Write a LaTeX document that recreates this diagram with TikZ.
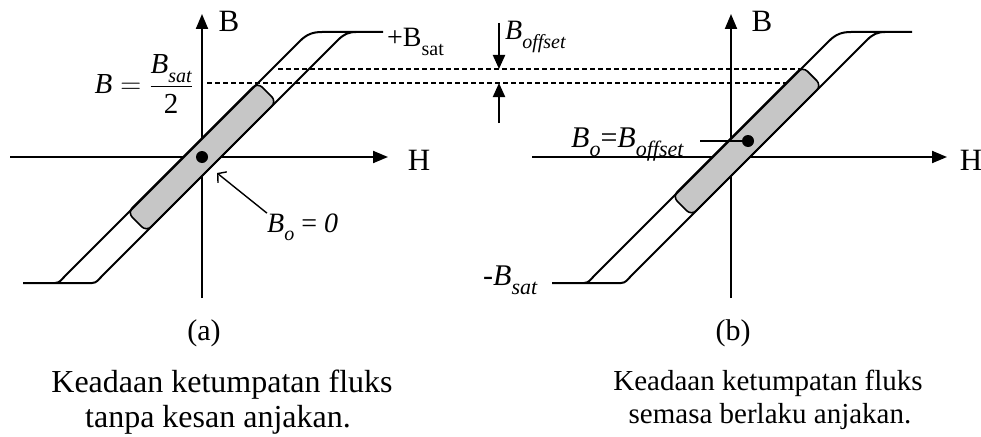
\RequirePackage{fix-cm}
\documentclass[tikz,border=0pt]{standalone}
\usepackage{amsmath}
\usepackage{fontspec}
\setmainfont{Liberation Serif}
\usetikzlibrary{arrows.meta, positioning, calc}

\newcommand\lowsub[2][20]{\raisebox{-0.3em}{\fontsize{#1}{#1}\selectfont #2}}
\newcommand\hysloop[1]{%
  \begin{scope}[shift={(#1,0)}]
    \draw[curve] (23,283) -- (92,283) to[out=0,in=225] (102,276) -- (338,40)
      to[out=45,in=180] (356,32) -- (383,32);
    \draw[curve] (55,283) to[out=0,in=225] (65,276) -- (300,41)
      to[out=45,in=180] (322,32) -- (356,32);
  \end{scope}}

\tikzset{
  axis/.style={line width=2pt, -{Triangle[length=15pt, width=12pt]}},
  curve/.style={line width=2pt, line join=round},
  band/.style={draw, line width=1.6pt, fill=gray!45, rounded corners=7pt,
    rotate=45, minimum width=184pt, minimum height=27pt, inner sep=0pt},
  level/.style={line width=1.3pt, dash pattern=on 5pt off 3pt},
  marker/.style={line width=2pt, -{Triangle[length=14pt, width=12pt]}},
  pointer/.style={line width=1.4pt, -{Straight Barb[length=6pt, width=14pt]}},
  leader/.style={line width=1.4pt},
  dot/.style={circle, fill=black, minimum size=12pt, inner sep=0pt},
  lbl/.style={font=\fontsize{28}{30}\selectfont, inner sep=0pt},
  biglbl/.style={font=\fontsize{30}{32}\selectfont, inner sep=0pt},
  axlbl/.style={font=\fontsize{31}{33}\selectfont, inner sep=0pt},
  captext/.style={font=\fontsize{29}{33}\selectfont, inner sep=0pt}
}

\begin{document}
\begin{tikzpicture}[x=1pt, y=-1pt]
  \useasboundingbox (0,0) rectangle (981,436);

  % (a) no offset
  \coordinate (Oa) at (202,157);
  \coordinate (Ba0) at (202,298);
  \coordinate (Ba1) at (202,14);
  \coordinate (Ha0) at (10,157);
  \coordinate (Ha1) at (388,157);
  \draw[axis] (Ba0) -- (Ba1);
  \draw[axis] (Ha0) -- (Ha1);
  \node[band] (banda) at (Oa) {};
  \hysloop{0}
  \node[dot] (dota) at (Oa) {};
  \node[axlbl] (Blbla) at (229,21) {B};
  \node[axlbl] (Hlbla) at (419,160) {H};
  \node[lbl, anchor=base west] (bsatp) at (387,47) {+B\lowsub{sat}};
  \node[lbl, anchor=east, font=\fontsize{29}{32}\selectfont] (bhalf) at (193,84)
    {$\text{\itshape B} = \dfrac{\text{\itshape B\lowsub{sat}}}{\text{2}}$};
  \node[lbl, anchor=base west] (bzero) at (267,232) {\textit{B\lowsub{o}} = \textit{0}};
  \coordinate (bzerotip) at (217,173);
  \draw[pointer] (bzero.north west) -- (bzerotip);
  \node[captext, anchor=base, font=\fontsize{30}{33}\selectfont] (capa) at (204,340) {(a)};
  \node[captext, anchor=base, font=\fontsize{32}{36}\selectfont] (capa1) at (222,392)
    {Keadaan ketumpatan fluks};
  \node[captext, anchor=base, font=\fontsize{32}{36}\selectfont] (capa2) at (218,427)
    {tanpa kesan anjakan.};

  % (b) with offset
  \coordinate (Ob) at (731,157);
  \coordinate (Bb0) at (731,298);
  \coordinate (Bb1) at (731,14);
  \coordinate (Hb0) at (532,157);
  \coordinate (Hb1) at (947,157);
  \draw[axis] (Bb0) -- (Bb1);
  \draw[axis] (Hb0) -- (Hb1);
  \node[band] (bandb) at (747,141) {};
  \hysloop{529}
  \node[dot] (dotb) at (748,141) {};
  \node[axlbl] (Blblb) at (762,21) {B};
  \node[axlbl] (Hlblb) at (971,160) {H};
  \node[biglbl, anchor=base west] (bsatm) at (483,285) {-\textit{B\lowsub[22]{sat}}};
  \node[biglbl, anchor=base west] (boff) at (571,147)
    {\textit{B\lowsub[22]{o}}=\textit{B\lowsub[22]{offset}}};
  \coordinate (leadb) at (700,141);
  \draw[leader] (leadb) -- (dotb.center);
  \node[captext, anchor=base, font=\fontsize{30}{33}\selectfont] (capb) at (733,340) {(b)};
  \node[captext, anchor=base] (capb1) at (768,390) {Keadaan ketumpatan fluks};
  \node[captext, anchor=base] (capb2) at (770,423) {semasa berlaku anjakan.};

  % offset levels
  \coordinate (hiL) at (278,69);
  \coordinate (hiR) at (800,69);
  \coordinate (loL) at (207,83);
  \coordinate (loR) at (787,83);
  \draw[level] (hiL) -- (hiR);
  \draw[level] (loL) -- (loR);
  \node[lbl, anchor=base west] (bofflbl) at (505,40) {\textit{B\lowsub{offset}}};
  \coordinate (offtop) at (499,23);
  \coordinate (offhi) at (499,69);
  \coordinate (offlo) at (499,83);
  \coordinate (offbot) at (499,123);
  \draw[marker] (offtop) -- (offhi);
  \draw[marker] (offbot) -- (offlo);
\end{tikzpicture}
\end{document}
